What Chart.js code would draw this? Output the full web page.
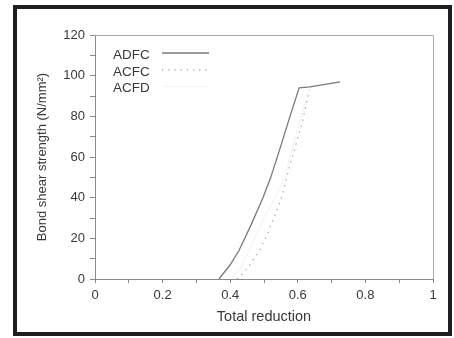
<!DOCTYPE html>
<html>
<head>
<meta charset="utf-8">
<script src="https://cdn.jsdelivr.net/npm/chart.js@4"></script>
<style>
  html, body { margin: 0; padding: 0; background: #fff; }
  #wrap { width: 454px; height: 338px; }
</style>
</head>
<body>
<div id="wrap"><canvas id="bondChart" width="454" height="338"></canvas></div>
<script>
// Bond shear strength vs total reduction

// ---- data ----
const seriesNames = ["ADFC", "ACFC", "ACFD"];

const adfcX = [0.367, 0.40, 0.426, 0.46, 0.497, 0.52, 0.547, 0.575, 0.604, 0.636, 0.725];
const adfcY = [0, 7, 14, 26, 40, 50, 64, 79, 94, 94.5, 97];

const acfcX = [0.42, 0.45, 0.49, 0.51, 0.55, 0.58, 0.61, 0.625, 0.635];
const acfcY = [0, 5, 15, 22, 39, 58, 75, 86, 93];

// third series is barely visible in the scan
const acfdX = [0.40, 0.43, 0.50, 0.557, 0.60, 0.63];
const acfdY = [0, 5, 30, 48, 74, 92];

const xTickLabels = { 0: "0", 2: "0.2", 4: "0.4", 6: "0.6", 8: "0.8", 10: "1" };

const pts = (xs, ys) => xs.map((x, i) => ({ x, y: ys[i] }));

const textColor = "#383838";
const axisColor = "#8a8a8a";
const fontFam = "'Liberation Sans', Arial, sans-serif";

// frame around the whole figure + box round the plot area
const framePlugin = {
  id: "frame",
  beforeDraw(chart) {
    const { ctx } = chart;
    ctx.save();
    ctx.fillStyle = "#fff";
    ctx.fillRect(0, 0, chart.width, chart.height);
    ctx.strokeStyle = "#1e1e1e";
    ctx.lineWidth = 4;
    ctx.strokeRect(15, 7, 435, 327);
    ctx.restore();
  },
  afterDatasetsDraw(chart) {
    const { ctx, chartArea: { left, top, right, bottom } } = chart;
    ctx.save();
    ctx.strokeStyle = "#a8a8a8";
    ctx.lineWidth = 1;
    ctx.beginPath();
    ctx.moveTo(left, top + 0.5);
    ctx.lineTo(right + 0.5, top + 0.5);
    ctx.lineTo(right + 0.5, bottom);
    ctx.stroke();
    ctx.restore();
  }
};

// legend: label on the left, line sample on the right
const legendPlugin = {
  id: "sideLegend",
  afterDraw(chart) {
    const { ctx } = chart;
    ctx.save();
    ctx.font = "13.5px " + fontFam;
    ctx.textBaseline = "middle";
    chart.data.datasets.forEach((ds, i) => {
      const y = 55 + i * 16.8;
      ctx.fillStyle = textColor;
      ctx.fillText(seriesNames[i], 113, y);
      ctx.strokeStyle = ds.borderColor;
      ctx.lineWidth = ds.borderWidth;
      ctx.setLineDash(ds.borderDash || []);
      ctx.beginPath();
      ctx.moveTo(162, y - 2);
      ctx.lineTo(209, y - 2);
      ctx.stroke();
    });
    ctx.restore();
  }
};

const ctx = document.getElementById("bondChart").getContext("2d");
new Chart(ctx, {
  type: "scatter",
  plugins: [framePlugin, legendPlugin],
  data: {
    datasets: [
      {
        label: seriesNames[0],
        data: pts(adfcX, adfcY),
        showLine: true,
        borderColor: "#7a7a7a",
        borderWidth: 1.3,
        pointRadius: 0,
        tension: 0
      },
      {
        label: seriesNames[1],
        data: pts(acfcX, acfcY),
        showLine: true,
        borderColor: "#999999",
        borderWidth: 1.2,
        borderDash: [1.2, 5],
        pointRadius: 0,
        tension: 0
      },
      {
        label: seriesNames[2],
        data: pts(acfdX, acfdY),
        showLine: true,
        borderColor: "#f6f6f6",
        borderWidth: 1.5,
        pointRadius: 0,
        tension: 0
      }
    ]
  },
  options: {
    responsive: false,
    animation: false,
    layout: { padding: { top: 35, right: 21, left: 0, bottom: 0 } },
    plugins: {
      legend: { display: false },
      tooltip: { enabled: false }
    },
    scales: {
      x: {
        type: "linear",
        min: 0, max: 1,
        afterFit(scale) { scale.height = 59; },
        ticks: {
          stepSize: 0.1,
          color: textColor,
          font: { family: fontFam, size: 13 },
          padding: 5,
          maxRotation: 0,
          autoSkip: false,
          callback: (v) => {
            const k = Math.round(v * 10);
            return xTickLabels[k] ?? "";
          }
        },
        grid: { drawOnChartArea: false, tickLength: 4, color: axisColor },
        border: { color: axisColor },
        title: {
          display: true,
          text: "Total reduction",
          color: textColor,
          font: { family: fontFam, size: 14.5 },
          padding: { top: 0, bottom: 12 }
        }
      },
      y: {
        min: 0, max: 120,
        afterFit(scale) { scale.width = 95; },
        ticks: {
          stepSize: 10,
          color: textColor,
          font: { family: fontFam, size: 13 },
          padding: 5,
          callback: (v) => (v % 20 === 0 ? String(v) : "")
        },
        grid: { drawOnChartArea: false, tickLength: 5, color: axisColor },
        border: { color: axisColor },
        title: {
          display: true,
          text: "Bond shear strength (N/mm²)",
          color: textColor,
          font: { family: fontFam, size: 13 },
          padding: { top: 35, bottom: 0 }
        }
      }
    }
  }
});
</script>
</body>
</html>
